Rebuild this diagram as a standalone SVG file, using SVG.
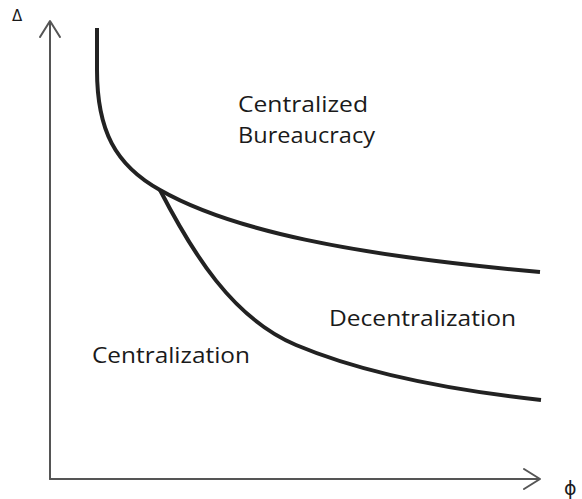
<svg xmlns="http://www.w3.org/2000/svg" width="582" height="499" viewBox="0 0 582 499">
<style>
.axis{fill:none;stroke:#555;stroke-width:2;stroke-linecap:round;stroke-linejoin:round}
.curve{fill:none;stroke:#222;stroke-width:4;stroke-linecap:butt;stroke-linejoin:round}
.lbl{font-family:"Open Sans","Liberation Sans",sans-serif;font-size:21px;fill:#1a1a1a}
.sym{font-family:"DejaVu Sans","Liberation Sans",sans-serif;fill:#1a1a1a}
</style>
<rect width="582" height="499" fill="#fff"/>
<g id="connectors">
<g id="axes">
<path class="axis" d="M50,479 L50,22"/>
<path class="axis" d="M40,37 L50,21 L60,37"/>
<path class="axis" d="M50,479 L539,479"/>
<path class="axis" d="M524,469 L540,479 L524,489"/>
</g>
<path id="upper-curve" class="curve" d="M97,28 L97,70 C97,130 115,165 160,190 C230,230 350,255 540,272"/>
<path id="lower-curve" class="curve" d="M160,190 C192,252 232,318 296,345 C360,372 450,390 541,400"/>
</g>
<g id="label-delta"><text class="sym" x="12" y="21" font-size="15">Δ</text></g>
<g id="label-phi"><text class="sym" x="564" y="495" font-size="19">ϕ</text></g>
<g id="region-bureaucracy">
<text class="lbl" x="238" y="112" textLength="130" lengthAdjust="spacingAndGlyphs">Centralized</text>
<text class="lbl" x="238" y="143" textLength="137" lengthAdjust="spacingAndGlyphs">Bureaucracy</text>
</g>
<g id="region-decentralization"><text class="lbl" x="329" y="326" textLength="187" lengthAdjust="spacingAndGlyphs">Decentralization</text></g>
<g id="region-centralization"><text class="lbl" x="92" y="363" textLength="158" lengthAdjust="spacingAndGlyphs">Centralization</text></g>
</svg>
